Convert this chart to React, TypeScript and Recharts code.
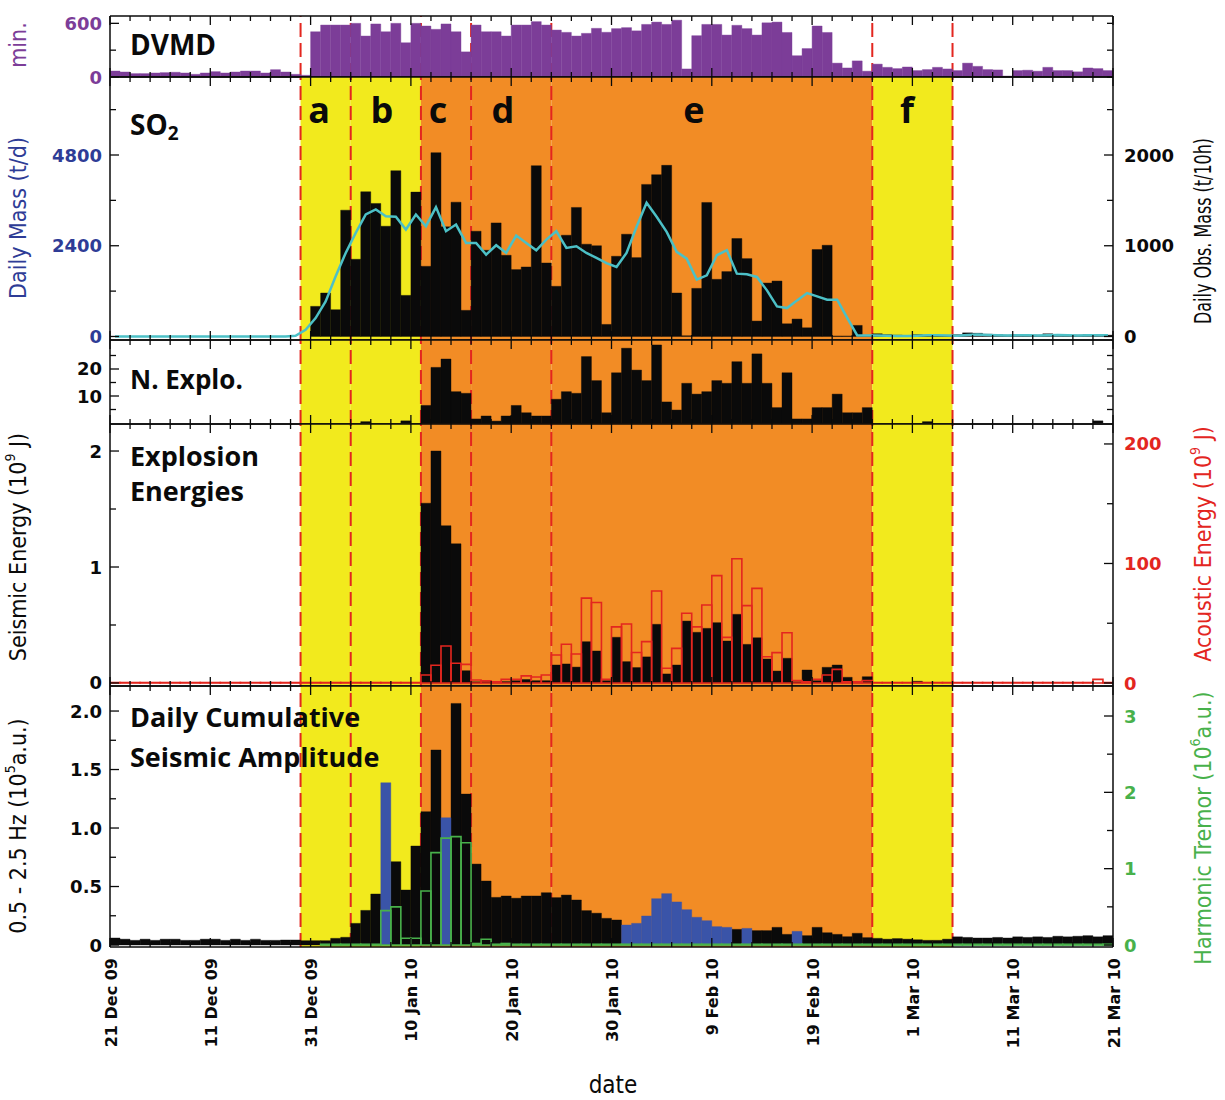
import React from "react";
import {
  Bar,
  ComposedChart,
  Line,
  ReferenceArea,
  ReferenceLine,
  XAxis,
  YAxis,
} from "recharts";

// one value per day; day 0 starts at the first date tick
const dateTicks = [0, 10, 20, 30, 40, 50, 60, 70, 80, 90, 100];
const dateLabels = [
  "21 Dec 09", "11 Dec 09", "31 Dec 09", "10 Jan 10", "20 Jan 10", "30 Jan 10",
  "9 Feb 10", "19 Feb 10", "1 Mar 10", "11 Mar 10", "21 Mar 10",
];

// eruptive phases (day boundaries)
const phaseNames = ["a", "b", "c", "d", "e", "f"];
const phaseStart = [19, 24, 31, 36, 44, 76];
const phaseEnd = [24, 31, 36, 44, 76, 84];
const phaseKind = ["y", "y", "o", "o", "o", "y"];
const boundaries = [19, 24, 31, 36, 44, 76, 84];

// DVMD (min.)
const dvmdMinutes = [
  67, 56, 38, 38, 45, 49, 53, 45, 30, 45,
  60, 45, 56, 67, 67, 45, 82, 56, 30, 19,
  506, 581, 581, 581, 600, 458, 593, 506, 600, 383,
  600, 570, 533, 593, 506, 281, 581, 506, 506, 458,
  581, 581, 619, 581, 525, 499, 458, 488, 544, 500,
  541, 552, 516, 588, 614, 588, 635, 90, 462, 588,
  588, 469, 578, 541, 469, 606, 614, 498, 238, 318,
  570, 498, 155, 101, 180, 65, 144, 108, 94, 112,
  72, 83, 108, 90, 72, 155, 119, 83, 79, 11,
  72, 76, 65, 108, 72, 72, 58, 101, 94, 72,
];

// SO2 daily observed mass (t/10h), black bars
const so2Obs = [
  0, 0, 0, 0, 0, 0, 0, 0, 0, 0,
  0, 0, 0, 0, 0, 0, 0, 0, 0, 0,
  332, 479, 295, 1392, 851, 1595, 1466, 1215, 1827, 453,
  1591, 773, 2026, 1208, 1480, 288, 1160, 950, 1252, 895,
  737, 766, 1882, 810, 553, 1116, 1422, 1017, 1000, 133,
  884, 1127, 869, 1676, 1783, 1886, 479, 8, 530, 1477,
  630, 715, 1079, 858, 170, 589, 611, 140, 192, 96,
  958, 1005, 5, 5, 122, 12, 30, 20, 15, 10,
  20, 15, 10, 12, 20, 40, 35, 25, 20, 15,
  20, 15, 15, 30, 15, 10, 15, 20, 15, 15,
];

// SO2 daily mass (t/d), cyan line
const so2Daily = [
  0, 0, 0, 0, 0, 0, 0, 0, 0, 0,
  0, 0, 0, 0, 0, 0, 0, 0, 20, 177,
  486, 928, 1591, 2210, 2740, 3227, 3359, 3182, 3165, 2829,
  3227, 2917, 3421, 2785, 2961, 2475, 2475, 2166, 2413, 2210,
  2670, 2475, 2281, 2564, 2785, 2343, 2387, 2210, 2077, 1940,
  1839, 2210, 2900, 3536, 3165, 2767, 2237, 2060, 1503, 1618,
  2148, 2281, 1662, 1644, 1574, 1220, 796, 751, 955, 1149,
  1061, 972, 972, 495, 27, 27, 27, 20, 10, 15,
  20, 30, 35, 25, 20, 40, 50, 40, 30, 25,
  30, 35, 25, 30, 40, 30, 25, 30, 35, 30,
];

// number of explosions per day
const nExplo = [
  0, 0, 0, 0, 0, 0, 0, 0, 0, 0,
  0, 0, 0, 0, 0, 0, 0, 0, 0, 0,
  0, 0, 0, 0, 0, 0.5, 0, 0, 0, 0.8,
  0, 6.5, 20.6, 23.7, 11.6, 11.0, 1.5, 2.6, 0.7, 2.6,
  6.5, 3.8, 2.6, 2.6, 8.8, 11.6, 11.0, 24.6, 15.7, 3.8,
  18.6, 27.7, 19.6, 15.7, 28.9, 7.8, 4.8, 14.7, 10.7, 11.6,
  15.7, 14.7, 22.7, 14.7, 25.6, 14.7, 5.7, 18.6, 1.5, 1.5,
  5.7, 5.7, 10.7, 3.8, 3.8, 5.7, 0, 0, 0, 0,
  0, 0.5, 0, 0, 0, 0, 0, 0, 0, 0,
  0, 0, 0, 0, 0, 0, 0, 0, 0.8, 0,
];

// seismic explosion energy (10^9 J)
const seismicEnergy = [
  0, 0, 0, 0, 0, 0, 0, 0, 0, 0,
  0, 0, 0, 0, 0, 0, 0, 0, 0, 0,
  0, 0, 0, 0, 0, 0, 0, 0, 0, 0,
  0, 1.55, 2.0, 1.356, 1.2, 0.106, 0.01, 0.012, 0.006, 0.012,
  0.02, 0.03, 0.02, 0.02, 0.155, 0.164, 0.137, 0.356, 0.276, 0.02,
  0.394, 0.184, 0.133, 0.225, 0.506, 0.078, 0.155, 0.534, 0.437, 0.471,
  0.52, 0.362, 0.592, 0.333, 0.39, 0.207, 0.103, 0.213, 0.01, 0.112,
  0.02, 0.135, 0.155, 0.049, 0.01, 0.054, 0, 0, 0, 0,
  0.015, 0, 0, 0, 0, 0, 0, 0, 0, 0,
  0, 0, 0, 0, 0, 0, 0, 0, 0, 0,
];

// acoustic explosion energy (10^9 J), red outlines
const acousticEnergy = [
  0.4, 0.4, 0.4, 0.4, 0.4, 0.4, 0.4, 0.4, 0.4, 0.4,
  0.4, 0.4, 0.4, 0.4, 0.4, 0.4, 0.4, 0.4, 0.4, 0.4,
  0.4, 0.4, 0.4, 0.4, 0.4, 0.4, 0.4, 0.4, 0.4, 0.4,
  0.4, 6.7, 14.8, 31, 16.5, 15.6, 2.5, 1.8, 1, 3,
  3, 6, 5, 6.7, 23.4, 32.4, 24.3, 71, 67.3, 3,
  47, 49.4, 25.5, 34.6, 77, 12.3, 29, 58.3, 47, 65.3,
  89.8, 38.2, 104, 64.7, 79.2, 22, 25.4, 42, 2, 1,
  3, 6.7, 11.4, 1, 1, 2, 0.4, 0.4, 0.4, 0.4,
  0.4, 0.4, 0.4, 0.4, 0.4, 0.4, 0.4, 0.4, 0.4, 0.4,
  0.4, 0.4, 0.4, 0.4, 0.4, 0.4, 0.4, 0.4, 3, 0.4,
];

// daily cumulative seismic amplitude 0.5-2.5 Hz (10^5 a.u.)
const cumAmplitude: (number | null)[] = [
  0.06, 0.05, 0.04, 0.05, 0.04, 0.05, 0.05, 0.04, 0.04, 0.05,
  0.05, 0.04, 0.05, 0.04, 0.05, 0.04, 0.04, 0.043, 0.043, 0.037,
  0.037, 0.037, 0.057, 0.066, 0.185, 0.296, 0.436, null, 0.712, 0.47,
  0.846, 1.14, 1.667, null, 2.065, 1.29, 0.692, 0.547, 0.407, 0.419,
  0.4, 0.419, 0.419, 0.447, 0.405, 0.427, 0.385, 0.294, 0.272, 0.228,
  0.214, null, null, null, null, null, null, null, null, null,
  null, null, 0.134, null, 0.123, 0.123, 0.151, 0.091, null, 0.08,
  0.151, 0.105, 0.091, 0.071, 0.1, 0.063, 0.057, 0.05, 0.055, 0.05,
  0.045, 0.04, 0.04, 0.05, 0.07, 0.065, 0.06, 0.06, 0.065, 0.06,
  0.07, 0.065, 0.07, 0.065, 0.075, 0.07, 0.075, 0.08, 0.07, 0.08,
];

// days drawn in blue (same units)
const ampBlue: (number | null)[] = [
  null, null, null, null, null, null, null, null, null, null,
  null, null, null, null, null, null, null, null, null, null,
  null, null, null, null, null, null, null, 1.387, null, null,
  null, null, null, 1.088, null, null, null, null, null, null,
  null, null, null, null, null, null, null, null, null, null,
  null, 0.171, 0.185, 0.248, 0.396, 0.439, 0.368, 0.302, 0.237, 0.208,
  0.157, 0.151, null, 0.142, null, null, null, null, 0.117, null,
  null, null, null, null, null, null, null, null, null, null,
  null, null, null, null, null, null, null, null, null, null,
  null, null, null, null, null, null, null, null, null, null,
];

// harmonic tremor (10^6 a.u.), green outlines
const harmonicTremor: (number | null)[] = [
  null, null, null, null, null, null, null, null, null, null,
  null, null, null, null, null, null, null, null, null, null,
  null, 0.01, 0.01, 0.01, 0.01, 0.01, 0.01, 0.45, 0.5, 0.088,
  0.088, 0.708, 1.21, 1.4, 1.42, 1.34, 0.02, 0.075, 0.01, 0.02,
  0.01, 0.01, 0.01, 0.01, 0.01, 0.01, 0.01, 0.01, 0.01, 0.01,
  0.01, 0.01, 0.01, 0.01, 0.01, 0.01, 0.01, 0.01, 0.01, 0.01,
  0.01, 0.01, 0.01, 0.01, 0.01, 0.01, 0.01, 0.01, 0.01, 0.01,
  0.01, 0.01, 0.01, 0.01, 0.01, 0.01, 0.01, 0.01, 0.01, 0.01,
  0.01, 0.01, 0.01, 0.01, 0.01, 0.01, 0.01, 0.01, 0.01, 0.01,
  0.01, 0.01, 0.01, 0.01, 0.01, 0.01, 0.01, 0.01, 0.01, 0.01,
];

const rows = dvmdMinutes.map((v, i) => ({
  x: i + 0.5,
  dvmd: v,
  so2Obs: so2Obs[i],
  so2Daily: so2Daily[i],
  nExplo: nExplo[i],
  seismic: seismicEnergy[i],
  acoustic: acousticEnergy[i],
  amp: cumAmplitude[i],
  ampBlue: ampBlue[i],
  tremor: harmonicTremor[i],
}));

const minorTicks = Array.from({ length: 51 }, (_, i) => i * 2);

// ---- look ----
const W = 1225;
const PL = 110;
const PR = 1113;
const PAD = 20;

const BLACK = "#0a0a0a";
const PURPLE = "#7c3d98";
const BLUE_TXT = "#2e3c96";
const CYAN = "#4cc0c6";
const YELLOW = "#f2ea1d";
const ORANGE = "#f28c25";
const RED = "#e3261f";
const GREEN = "#48b14b";
const BLUE_BAR = "#3a54a8";

const TICK_FONT = "'DejaVu Sans', Verdana, sans-serif";
const TITLE_FONT =
  "'Liberation Sans Narrow', 'DejaVu Sans Condensed', 'Roboto Condensed', 'Liberation Sans', sans-serif";
const BOLD_FONT = "'Open Sans', 'DejaVu Sans', sans-serif";

type YSpec = {
  id: string;
  side: "left" | "right";
  domain: [number, number];
  ticks: number[];
  labeled: number[];
  color: string;
  fmt?: (v: number) => string;
};

const xTickRenderer = (side: "top" | "bottom", labels: boolean) => (p: any) => {
  const v = p.payload.value as number;
  const li = dateTicks.indexOf(v);
  const len = li >= 0 ? 9 : 5;
  const y2 = side === "bottom" ? p.y - len : p.y + len;
  return (
    <g>
      <line x1={p.x} y1={p.y} x2={p.x} y2={y2} stroke={BLACK} strokeWidth={1.3} />
      {labels && li >= 0 && (
        <text
          transform={`translate(${p.x + 1},${p.y + 11}) rotate(-90)`}
          textAnchor="end"
          dominantBaseline="central"
          fontFamily={TICK_FONT}
          fontWeight={700}
          fontSize={16}
          fill={BLACK}
        >
          {dateLabels[li]}
        </text>
      )}
    </g>
  );
};

const yTickRenderer = (s: YSpec) => (p: any) => {
  const v = p.payload.value as number;
  const lab = s.labeled.includes(v);
  const len = lab ? 9 : 6;
  const dir = s.side === "left" ? 1 : -1;
  return (
    <g>
      <line x1={p.x} y1={p.y} x2={p.x + dir * len} y2={p.y} stroke={BLACK} strokeWidth={1.3} />
      {lab && (
        <text
          x={s.side === "left" ? p.x - 8 : p.x + 11}
          y={p.y}
          textAnchor={s.side === "left" ? "end" : "start"}
          dominantBaseline="central"
          fontFamily={TICK_FONT}
          fontWeight={700}
          fontSize={18}
          fill={s.color}
        >
          {s.fmt ? s.fmt(v) : String(v)}
        </text>
      )}
    </g>
  );
};

function frame(ys: YSpec[], xLabels: boolean, hidden: string[] = []) {
  return [
    <XAxis
      key="xb"
      xAxisId="b"
      type="number"
      dataKey="x"
      domain={[0, 100]}
      ticks={minorTicks}
      interval={0}
      orientation="bottom"
      height={1}
      tickSize={0}
      tickMargin={0}
      tickLine={false}
      tick={xTickRenderer("bottom", xLabels)}
      axisLine={{ stroke: BLACK, strokeWidth: 1.5 }}
      allowDataOverflow
    />,
    <XAxis
      key="xt"
      xAxisId="t"
      type="number"
      dataKey="x"
      domain={[0, 100]}
      ticks={minorTicks}
      interval={0}
      orientation="top"
      height={1}
      tickSize={0}
      tickMargin={0}
      tickLine={false}
      tick={xTickRenderer("top", false)}
      axisLine={{ stroke: BLACK, strokeWidth: 1.5 }}
      allowDataOverflow
    />,
    ...hidden.map((id) => (
      <XAxis key={id} xAxisId={id} type="number" dataKey="x" domain={[0, 100]} hide allowDataOverflow />
    )),
    ...ys.map((s) => (
      <YAxis
        key={s.id}
        yAxisId={s.id}
        orientation={s.side}
        type="number"
        domain={s.domain}
        ticks={s.ticks}
        interval={0}
        width={1}
        tickSize={0}
        tickMargin={0}
        tickLine={false}
        tick={yTickRenderer(s)}
        axisLine={{ stroke: BLACK, strokeWidth: 1.5 }}
        allowDataOverflow
      />
    )),
  ];
}

function phases(yId: string) {
  return phaseStart.map((s, i) => (
    <ReferenceArea
      key={"ph" + i}
      xAxisId="b"
      yAxisId={yId}
      x1={s}
      x2={phaseEnd[i]}
      fill={phaseKind[i] === "y" ? YELLOW : ORANGE}
      fillOpacity={1}
      stroke="none"
      zIndex={-60}
    />
  ));
}

function dashes(yId: string) {
  return boundaries.map((d) => (
    <ReferenceLine
      key={"bd" + d}
      xAxisId="b"
      yAxisId={yId}
      x={d}
      stroke={RED}
      strokeWidth={2}
      strokeDasharray="14 6"
      zIndex={-50}
    />
  ));
}

function Panel(props: { top: number; bottom: number; extra?: number; children: React.ReactNode }) {
  const extra = props.extra ?? 0;
  const h = props.bottom - props.top;
  return (
    <div style={{ position: "absolute", left: 0, top: props.top - PAD }}>
      <ComposedChart
        width={W}
        height={h + 2 * PAD + extra}
        data={rows}
        margin={{ top: PAD - 1, bottom: PAD - 1 + extra, left: PL - 1, right: W - PR - 1 }}
        barCategoryGap={0}
        barGap={0}
      >
        {props.children}
      </ComposedChart>
    </div>
  );
}

function VTitle(props: {
  x: number;
  y: number;
  color: string;
  squeeze?: number;
  children: React.ReactNode;
}) {
  const sq = props.squeeze ?? 1;
  return (
    <text
      transform={`translate(${props.x},${props.y}) rotate(-90) scale(${sq},1)`}
      textAnchor="middle"
      dominantBaseline="central"
      fontFamily={TITLE_FONT}
      fontSize={23}
      fill={props.color}
    >
      {props.children}
    </text>
  );
}

const one = (v: number) => (v === 0 ? "0" : v.toFixed(1));
const letterX = [319, 382, 438, 503, 694, 907];

export default function App() {
  return (
    <div
      style={{
        position: "absolute",
        left: 0,
        top: 0,
        width: W,
        height: 1100,
        background: "#fff",
        overflow: "hidden",
      }}
    >
      {/* DVMD */}
      <Panel top={16} bottom={77}>
        {frame(
          [
            { id: "l", side: "left", domain: [0, 682], ticks: [0, 300, 600], labeled: [0, 600], color: PURPLE },
            { id: "r", side: "right", domain: [0, 682], ticks: [0, 300, 600], labeled: [], color: BLACK },
          ],
          false
        )}
        {dashes("l")}
        <Bar xAxisId="b" yAxisId="l" dataKey="dvmd" fill={PURPLE} stroke={PURPLE} strokeWidth={0.4} isAnimationActive={false} />
      </Panel>

      {/* SO2 */}
      <Panel top={77} bottom={340}>
        {frame(
          [
            {
              id: "l", side: "left", domain: [-93, 6863],
              ticks: [0, 1200, 2400, 3600, 4800, 6000], labeled: [0, 2400, 4800], color: BLUE_TXT,
            },
            {
              id: "r", side: "right", domain: [-38.75, 2859.6],
              ticks: [0, 500, 1000, 1500, 2000, 2500], labeled: [0, 1000, 2000], color: BLACK,
            },
          ],
          false
        )}
        {phases("l")}
        {dashes("l")}
        <Bar xAxisId="b" yAxisId="r" dataKey="so2Obs" fill={BLACK} stroke={BLACK} strokeWidth={0.4} isAnimationActive={false} />
        <Line
          xAxisId="b"
          yAxisId="l"
          dataKey="so2Daily"
          type="linear"
          stroke={CYAN}
          strokeWidth={2.5}
          dot={false}
          isAnimationActive={false}
        />
      </Panel>

      {/* N. Explo */}
      <Panel top={340} bottom={424}>
        {frame(
          [
            { id: "l", side: "left", domain: [-0.37, 30.74], ticks: [5, 10, 15, 20, 25], labeled: [10, 20], color: BLACK },
            { id: "r", side: "right", domain: [-0.37, 30.74], ticks: [5, 10, 15, 20, 25], labeled: [], color: BLACK },
          ],
          false
        )}
        {phases("l")}
        {dashes("l")}
        <Bar xAxisId="b" yAxisId="l" dataKey="nExplo" fill={BLACK} stroke={BLACK} strokeWidth={0.4} isAnimationActive={false} />
      </Panel>

      {/* Explosion energies */}
      <Panel top={424} bottom={686}>
        {frame(
          [
            { id: "l", side: "left", domain: [-0.026, 2.233], ticks: [0, 0.5, 1, 1.5, 2], labeled: [0, 1, 2], color: BLACK },
            { id: "r", side: "right", domain: [-2.51, 216.7], ticks: [0, 50, 100, 150, 200], labeled: [0, 100, 200], color: RED },
          ],
          false,
          ["h1"]
        )}
        {phases("l")}
        {dashes("l")}
        <Bar xAxisId="b" yAxisId="l" dataKey="seismic" fill={BLACK} stroke={BLACK} strokeWidth={0.4} isAnimationActive={false} />
        <Bar xAxisId="h1" yAxisId="r" dataKey="acoustic" fill="none" stroke={RED} strokeWidth={1.6} isAnimationActive={false} />
      </Panel>

      {/* Daily cumulative seismic amplitude */}
      <Panel top={686} bottom={947} extra={130}>
        {frame(
          [
            {
              id: "l", side: "left", domain: [-0.017, 2.214],
              ticks: [0, 0.25, 0.5, 0.75, 1, 1.25, 1.5, 1.75, 2], labeled: [0, 0.5, 1, 1.5, 2],
              color: BLACK, fmt: one,
            },
            {
              id: "r", side: "right", domain: [-0.026, 3.393],
              ticks: [0, 0.5, 1, 1.5, 2, 2.5, 3], labeled: [0, 1, 2, 3], color: GREEN,
            },
          ],
          true,
          ["h1", "h2"]
        )}
        {phases("l")}
        {dashes("l")}
        <Bar xAxisId="b" yAxisId="l" dataKey="amp" fill={BLACK} stroke={BLACK} strokeWidth={0.4} isAnimationActive={false} />
        <Bar xAxisId="h1" yAxisId="l" dataKey="ampBlue" fill={BLUE_BAR} stroke={BLUE_BAR} strokeWidth={0.4} isAnimationActive={false} />
        <Bar xAxisId="h2" yAxisId="r" dataKey="tremor" fill="none" stroke={GREEN} strokeWidth={1.6} isAnimationActive={false} />
      </Panel>

      {/* titles and labels */}
      <svg
        width={W}
        height={1100}
        style={{ position: "absolute", left: 0, top: 0, pointerEvents: "none" }}
      >
        <g fontFamily={BOLD_FONT} fontWeight={700} fill={BLACK}>
          <text x={130} y={55} fontSize={28}>DVMD</text>
          <text x={130} y={135} fontSize={28}>
            SO<tspan fontSize={19} dy={5}>2</tspan>
          </text>
          <text x={130} y={389} fontSize={26}>N. Explo.</text>
          <text x={130} y={466} fontSize={27}>Explosion</text>
          <text x={130} y={501} fontSize={27}>Energies</text>
          <text x={130} y={727} fontSize={27}>Daily Cumulative</text>
          <text x={130} y={767} fontSize={27}>Seismic Amplitude</text>
          {phaseNames.map((n, i) => (
            <text key={n} x={letterX[i]} y={123} fontSize={36} textAnchor="middle">
              {n}
            </text>
          ))}
        </g>

        <VTitle x={18} y={45} color={PURPLE}>min.</VTitle>
        <VTitle x={18} y={218} color={BLUE_TXT}>Daily Mass (t/d)</VTitle>
        <VTitle x={18} y={547} color={BLACK}>
          Seismic Energy (10<tspan dy={-8} fontSize={14}>9</tspan>
          <tspan dy={8}> J)</tspan>
        </VTitle>
        <VTitle x={18} y={826} color={BLACK}>
          0.5 - 2.5 Hz (10<tspan dy={-8} fontSize={14}>5</tspan>
          <tspan dy={8}>a.u.)</tspan>
        </VTitle>
        <VTitle x={1203} y={231} color={BLACK} squeeze={0.77}>
          Daily Obs. Mass (t/10h)
        </VTitle>
        <VTitle x={1203} y={544} color={RED}>
          Acoustic Energy  (10<tspan dy={-8} fontSize={14}>9</tspan>
          <tspan dy={8}> J)</tspan>
        </VTitle>
        <VTitle x={1203} y={828} color={GREEN}>
          Harmonic Tremor  (10<tspan dy={-8} fontSize={14}>6</tspan>
          <tspan dy={8}>a.u.)</tspan>
        </VTitle>

        <text x={613} y={1093} textAnchor="middle" fontFamily={TITLE_FONT} fontSize={24} fill={BLACK}>
          date
        </text>
      </svg>
    </div>
  );
}
